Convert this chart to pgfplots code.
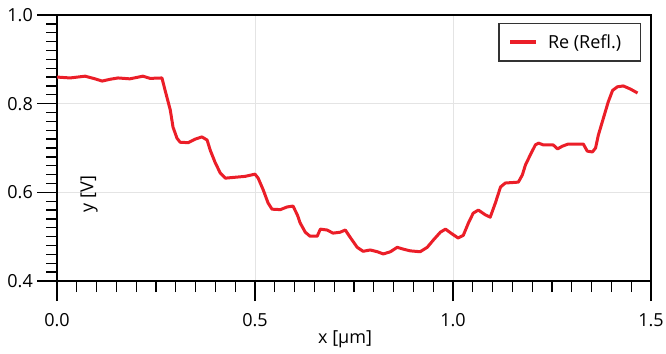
\documentclass[border=0pt]{standalone}
\usepackage{pgfplots}
\pgfplotsset{compat=1.18}
\usepackage{fontspec}
\setmainfont{Open Sans}
\definecolor{curve}{RGB}{235,30,40}
\definecolor{gridc}{RGB}{228,228,228}
\begin{document}
\begin{tikzpicture}
\path[use as bounding box] (0,0) rectangle (666bp,354bp);
\begin{axis}[
  at={(57bp,73bp)}, anchor=south west,
  scale only axis, width=594bp, height=266bp,
  xmin=0, xmax=1.5, ymin=0.4, ymax=1.0,
  xtick={0,0.5,1.0,1.5}, ytick={0.4,0.6,0.8,1.0},
  minor x tick num=9, minor y tick num=9,
  xtick pos=lower, ytick pos=left,
  tick align=outside,
  major tick length=20bp, minor tick length=11bp,
  every tick/.style={black, line width=1.3bp},
  axis line style={black, line width=1.3bp},
  grid=major, major grid style={gridc, line width=0.8bp},
  font=\fontsize{18bp}{21bp}\selectfont,
  /pgf/number format/assume math mode=true,
  /pgf/number format/fixed,
  /pgf/number format/fixed zerofill,
  /pgf/number format/precision=1,
  xticklabel style={anchor=north, inner sep=0pt, yshift=-12bp},
  yticklabel style={anchor=east, inner sep=0pt, xshift=-4bp},
  xlabel={x [µm]}, ylabel={y [V]},
  xlabel style={at={(axis description cs:0.485,0)}, anchor=base, yshift=-62bp, inner sep=0pt},
  ylabel style={at={(axis description cs:0.054,0.327)}, anchor=center, inner sep=0pt},
  legend style={at={(axis description cs:0.983,0.970)}, anchor=north east,
    draw={black!80}, line width=1.3bp, inner xsep=9bp, inner ysep=11bp,
    nodes={inner sep=0pt, anchor=west}, column sep=10bp,
    font=\fontsize{18bp}{21bp}\selectfont},
  legend image code/.code={\draw[line width=4bp] (0bp,0bp) -- (26bp,0bp);},
  legend cell align=left,
]
\addplot[curve, line width=3bp, line join=round] coordinates {
(0.000,0.860) (0.033,0.858) (0.071,0.862) (0.096,0.856) (0.114,0.851)
(0.134,0.855) (0.154,0.858) (0.184,0.856) (0.217,0.862) (0.235,0.857)
(0.265,0.858) (0.273,0.830) (0.286,0.786) (0.293,0.747) (0.303,0.722)
(0.311,0.713) (0.331,0.712) (0.349,0.720) (0.366,0.725) (0.379,0.718)
(0.387,0.695) (0.399,0.668) (0.412,0.644) (0.425,0.632) (0.450,0.634)
(0.475,0.636) (0.500,0.641) (0.508,0.632) (0.521,0.605) (0.533,0.576)
(0.543,0.562) (0.564,0.561) (0.581,0.567) (0.596,0.569) (0.607,0.549)
(0.614,0.531) (0.627,0.510) (0.639,0.501) (0.657,0.501) (0.665,0.517)
(0.682,0.515) (0.697,0.508) (0.715,0.510) (0.728,0.515) (0.740,0.499)
(0.758,0.476) (0.773,0.467) (0.791,0.470) (0.809,0.466) (0.824,0.461)
(0.842,0.466) (0.859,0.476) (0.874,0.472) (0.892,0.468) (0.917,0.466)
(0.935,0.476) (0.950,0.492) (0.968,0.510) (0.981,0.517) (0.998,0.506)
(1.013,0.497) (1.026,0.503) (1.039,0.531) (1.051,0.553) (1.064,0.560)
(1.082,0.549) (1.094,0.544) (1.107,0.576) (1.120,0.612) (1.132,0.621)
(1.165,0.623) (1.175,0.639) (1.183,0.662) (1.195,0.684) (1.208,0.707)
(1.216,0.711) (1.228,0.707) (1.253,0.707) (1.264,0.698) (1.276,0.704)
(1.291,0.709) (1.329,0.709) (1.339,0.693) (1.352,0.691) (1.360,0.700)
(1.367,0.729) (1.380,0.768) (1.392,0.804) (1.403,0.830) (1.415,0.838)
(1.430,0.840) (1.448,0.833) (1.466,0.824)
};
\addlegendentry{Re (Refl.)\rule{10bp}{0pt}}
\end{axis}
\end{tikzpicture}
\end{document}
